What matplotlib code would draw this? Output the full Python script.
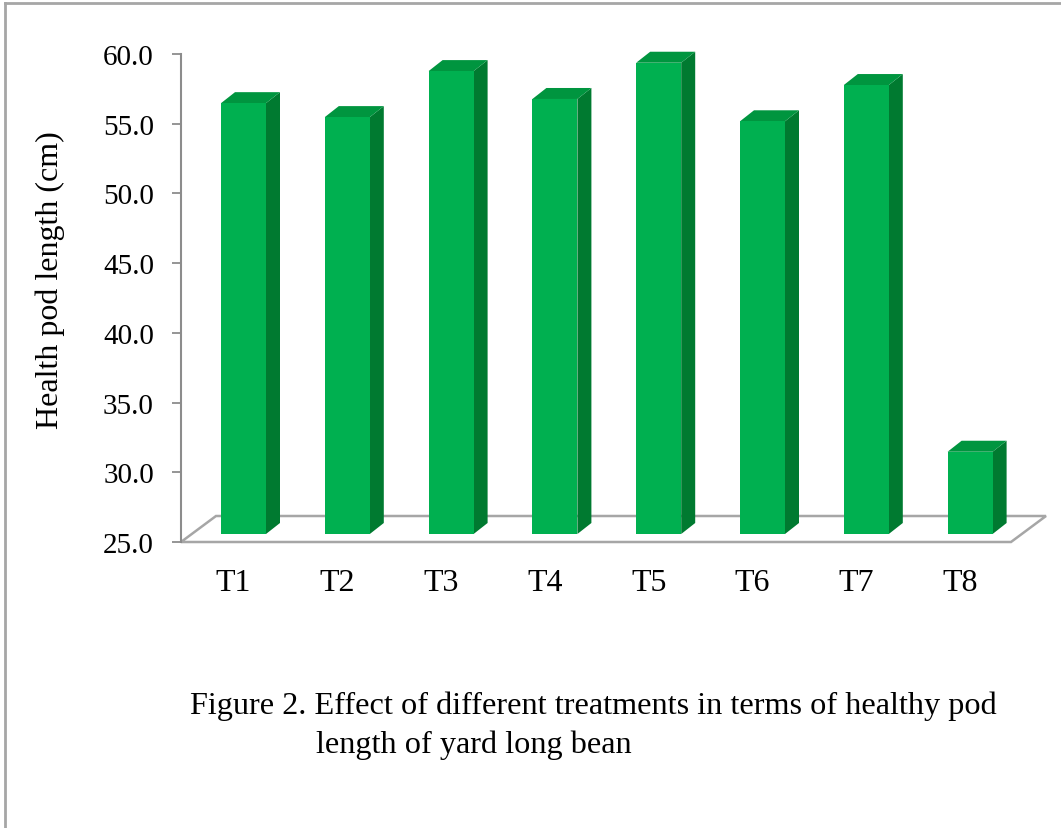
import matplotlib
matplotlib.use("Agg")
import matplotlib.pyplot as plt
from matplotlib.patches import Polygon
from matplotlib.lines import Line2D
import numpy as np

categories = ["T1", "T2", "T3", "T4", "T5", "T6", "T7", "T8"]
values = [55.9, 54.9, 58.2, 56.2, 58.8, 54.6, 57.2, 30.9]
yticks = [25.0, 30.0, 35.0, 40.0, 45.0, 50.0, 55.0, 60.0]
ylabel = "Health pod length (cm)"
caption1 = "Figure 2. Effect of different treatments in terms of healthy pod"
caption2 = "length of yard long bean"

plt.rcParams['font.family'] = ['Liberation Serif', 'DejaVu Serif']

W, H = 1061, 829
fig = plt.figure(figsize=(W / 100, H / 100), dpi=100)
fig.patch.set_facecolor("white")

# axes placement (pixels)
ax_l, ax_r, ax_t, ax_b = 181, 1050, 55, 543
ax = fig.add_axes([ax_l / W, 1 - ax_b / H, (ax_r - ax_l) / W, (ax_b - ax_t) / H])
px_x = 103.8          # pixels per category
x0 = 243.5            # pixel of first front face centre
xmin = (ax_l - x0) / px_x
xmax = (ax_r - x0) / px_x
ymin, ymax = 25.0, 60.0
px_y = (ax_b - ax_t) / (ymax - ymin)
ax.set_xlim(xmin, xmax)
ax.set_ylim(ymin, ymax)

front_c = "#00B050"
side_c = "#007A30"
top_c = "#00953F"
floor_c = "#A6A6A6"

# floor parallelogram
fdx, fdy = 35 / px_x, 26 / px_y
f_right = (1011 - x0) / px_x
floor = Polygon([[xmin, ymin], [f_right, ymin], [f_right + fdx, ymin + fdy],
                 [xmin + fdx, ymin + fdy]], closed=True, facecolor="white",
                edgecolor=floor_c, linewidth=1.8, clip_on=False, zorder=1)
ax.add_patch(floor)

# bars
x = np.arange(len(categories))
bw = 45 / px_x
lift = 8 / px_y
bdx, bdy = 14 / px_x, 11 / px_y
vals = np.array(values)
ax.bar(x, vals - ymin, bottom=ymin + lift, width=bw, color=front_c,
       edgecolor="none", zorder=3, clip_on=False)
for xi, v in zip(x, vals):
    r = xi + bw / 2
    l = xi - bw / 2
    b = ymin + lift
    t = v + lift
    side = Polygon([[r, b], [r + bdx, b + bdy], [r + bdx, t + bdy], [r, t]],
                   closed=True, facecolor=side_c, edgecolor="none", zorder=2.5, clip_on=False)
    top = Polygon([[l, t], [r, t], [r + bdx, t + bdy], [l + bdx, t + bdy]],
                  closed=True, facecolor=top_c, edgecolor="none", zorder=2.5, clip_on=False)
    ax.add_patch(side)
    ax.add_patch(top)

# axes styling
for s in ["top", "right", "bottom"]:
    ax.spines[s].set_visible(False)
ax.spines["left"].set_color("#8C8C8C")
ax.spines["left"].set_linewidth(1.5)
ax.set_yticks(yticks)
ax.set_yticklabels([f"{t:.1f}" for t in yticks], fontsize=21)
ax.tick_params(axis="y", length=6.5, width=1.3, color="#8C8C8C", pad=13)
ax.set_xticks(x - 10 / px_x)
ax.set_xticklabels(categories, fontsize=23)
ax.tick_params(axis="x", length=0, pad=19)
ax.patch.set_alpha(0)

fig.text(50 / W, 1 - 280 / H, ylabel, rotation=90, fontsize=23,
         ha="center", va="center")
fig.text(190 / W, 1 - 706 / H, caption1, fontsize=23.2, ha="left", va="center")
fig.text(316 / W, 1 - 745 / H, caption2, fontsize=23.2, ha="left", va="center")

# outer frame (top and left)
fig.add_artist(Line2D([5 / W, 1], [1 - 4 / H, 1 - 4 / H], transform=fig.transFigure,
                      color="#A6A6A6", linewidth=2))
fig.add_artist(Line2D([5 / W, 5 / W], [0, 1 - 4 / H], transform=fig.transFigure,
                      color="#A6A6A6", linewidth=2))

fig.savefig("out.png", dpi=100)
